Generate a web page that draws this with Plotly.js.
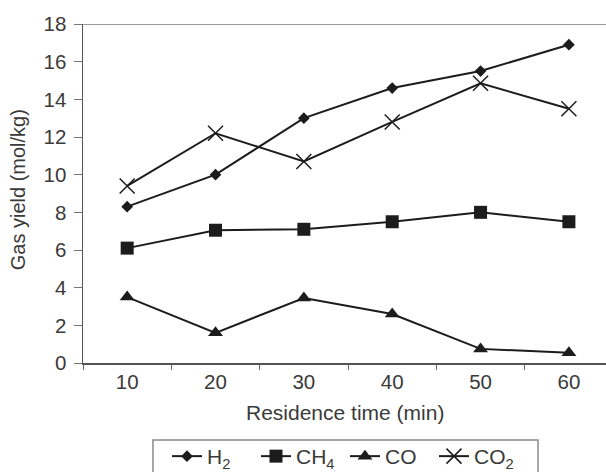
<!DOCTYPE html>
<html>
<head>
<meta charset="utf-8">
<script src="https://cdn.plot.ly/plotly-3.0.1.min.js"></script>
<style>
  html, body { margin: 0; padding: 0; background: #fff; }
  #chart { width: 606px; height: 472px; }
</style>
</head>
<body>
<div id="chart"></div>
<script>
// Residence time (min)
const times = [10, 20, 30, 40, 50, 60];

// Gas yield (mol/kg) per gas
const h2  = [8.3, 10.0, 13.0, 14.6, 15.5, 16.9];
const ch4 = [6.1, 7.05, 7.1, 7.5, 8.0, 7.5];
const co  = [3.5, 1.6, 3.45, 2.6, 0.75, 0.55];
const co2 = [9.4, 12.2, 10.7, 12.8, 14.85, 13.5];

const seriesNames = ['H<sub>2</sub>', 'CH<sub>4</sub>', 'CO', 'CO<sub>2</sub>'];

const ink = '#1c1c1c';
const textColor = '#3a3a3a';
const font = 'Liberation Sans, Arial, sans-serif';

function series(name, y, marker) {
  return {
    type: 'scatter',
    mode: 'lines+markers',
    name: name,
    x: times,
    y: y,
    line: { color: ink, width: 2 },
    marker: Object.assign({ color: ink }, marker)
  };
}

const data = [
  series(seriesNames[0], h2,  { symbol: 'diamond', size: 9 }),
  series(seriesNames[1], ch4, { symbol: 'square', size: 13 }),
  series(seriesNames[2], co,  { symbol: 'triangle-up', size: 13 }),
  series(seriesNames[3], co2, { symbol: 'x-thin-open', size: 15, line: { color: ink, width: 1.5 } })
];

const layout = {
  width: 606,
  height: 472,
  margin: { l: 83, r: 0, t: 24, b: 109, autoexpand: false },
  paper_bgcolor: '#fff',
  plot_bgcolor: '#fff',
  showlegend: true,
  font: { family: font, size: 20, color: textColor },
  xaxis: {
    range: [5, 64.2],
    tickmode: 'linear',
    tick0: 10,
    dtick: 10,
    ticks: '',
    showgrid: false,
    zeroline: false,
    showline: true,
    linecolor: '#555',
    linewidth: 1.5,
    tickfont: { family: font, size: 20.5, color: textColor },
    minor: { ticks: 'outside', tick0: 5, dtick: 10, ticklen: 5, tickcolor: '#666', tickwidth: 1, showgrid: false }
  },
  yaxis: {
    range: [0, 18],
    tickmode: 'linear',
    tick0: 0,
    dtick: 2,
    ticks: 'outside',
    ticklen: 8,
    tickcolor: '#777',
    tickwidth: 1,
    ticklabelstandoff: 3,
    showgrid: false,
    zeroline: false,
    showline: true,
    linecolor: '#555',
    linewidth: 1.5,
    tickfont: { family: font, size: 20.5, color: textColor }
  },
  shapes: [
    // light top frame line
    { type: 'line', xref: 'paper', x0: 0, x1: 1, yref: 'y', y0: 18, y1: 18,
      line: { color: '#9a9a9a', width: 2 } },
    // legend frame (open at the bottom edge of the figure)
    { type: 'rect', xref: 'paper', yref: 'paper', x0: 0.1338, x1: 0.8700, y0: -0.2271, y1: -0.36,
      line: { color: '#8a8a8a', width: 1.5 }, fillcolor: 'rgba(0,0,0,0)' }
  ],
  annotations: [
    { text: 'Residence time (min)', xref: 'paper', yref: 'paper', x: 0.5, y: -0.145,
      xanchor: 'center', yanchor: 'middle', showarrow: false,
      font: { family: font, size: 21, color: textColor } },
    { text: 'Gas yield (mol/kg)', xref: 'paper', yref: 'paper', x: -0.124, y: 0.51,
      xanchor: 'center', yanchor: 'middle', textangle: -90, showarrow: false,
      font: { family: font, size: 20, color: textColor } }
  ],
  legend: {
    orientation: 'h',
    x: 0.1606, xanchor: 'left',
    y: -0.2153, yanchor: 'top',
    borderwidth: 0,
    bgcolor: 'rgba(0,0,0,0)',
    entrywidth: 44,
    entrywidthmode: 'pixels',
    font: { family: font, size: 21, color: textColor },
    traceorder: 'normal'
  }
};

Plotly.newPlot('chart', data, layout, { displayModeBar: false, staticPlot: true });
</script>
</body>
</html>
